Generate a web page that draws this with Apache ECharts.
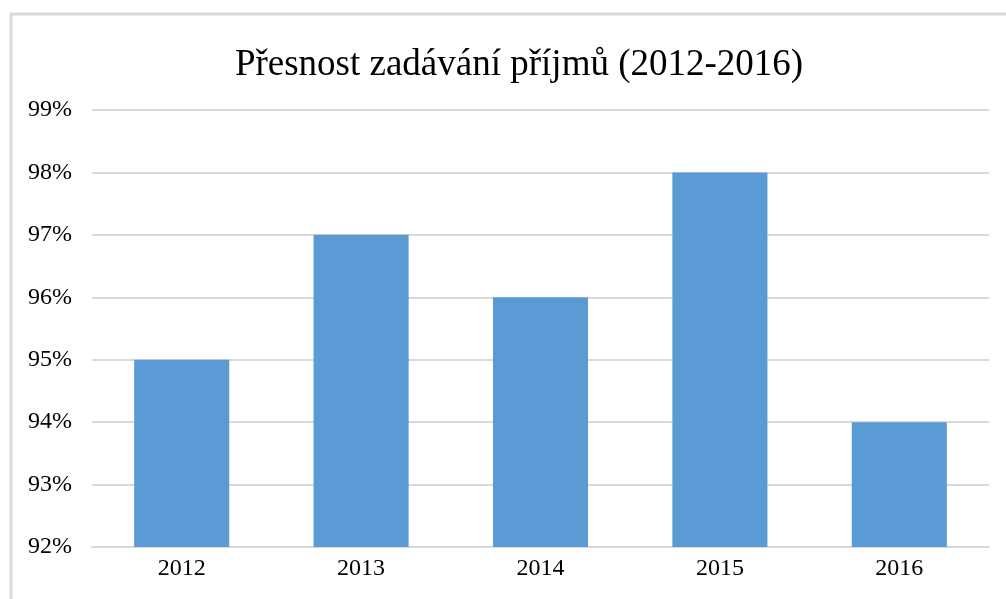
<!DOCTYPE html>
<html>
<head>
<meta charset="utf-8">
<script src="https://cdn.jsdelivr.net/npm/echarts@6/dist/echarts.min.js"></script>
<style>
  html, body { margin: 0; padding: 0; background: #fff; }
  #chart { width: 1006px; height: 599px; }
</style>
</head>
<body>
<div id="chart"></div>
<script>
// data
const years = ["2012", "2013", "2014", "2015", "2016"];
const accuracy = [95, 97, 96, 98, 94];

const chart = echarts.init(document.getElementById("chart"));
const font = "'Liberation Serif', 'Times New Roman', serif";

chart.setOption({
  animation: false,
  title: {
    text: "Přesnost zadávání příjmů (2012-2016)",
    left: 514,
    textAlign: "center",
    top: 42,
    textStyle: { fontFamily: font, fontSize: 37, fontWeight: "normal", color: "#000" },
  },
  graphic: [
    {
      type: "rect",
      shape: { x: 11, y: 14, width: 1010, height: 610 },
      style: { fill: "none", stroke: "#d9d9d9", lineWidth: 3 },
      silent: true,
    },
  ],
  grid: { left: 92, right: 17, top: 110, bottom: 52 },
  xAxis: {
    type: "category",
    data: years,
    axisLine: { show: true, lineStyle: { color: "#d9d9d9", width: 2 } },
    axisTick: { show: false },
    axisLabel: { fontFamily: font, fontSize: 24, color: "#000", margin: 10 },
  },
  yAxis: {
    type: "value",
    min: 92,
    max: 99,
    interval: 1,
    axisLine: { show: false },
    axisTick: { show: false },
    splitLine: { lineStyle: { color: "#d9d9d9", width: 2 } },
    axisLabel: {
      fontFamily: font,
      fontSize: 24,
      color: "#000",
      margin: 20,
      formatter: (v) => v + "%",
    },
  },
  series: [
    {
      type: "bar",
      data: accuracy,
      barWidth: "53%",
      itemStyle: { color: "#5B9BD5" },
    },
  ],
});
</script>
</body>
</html>
